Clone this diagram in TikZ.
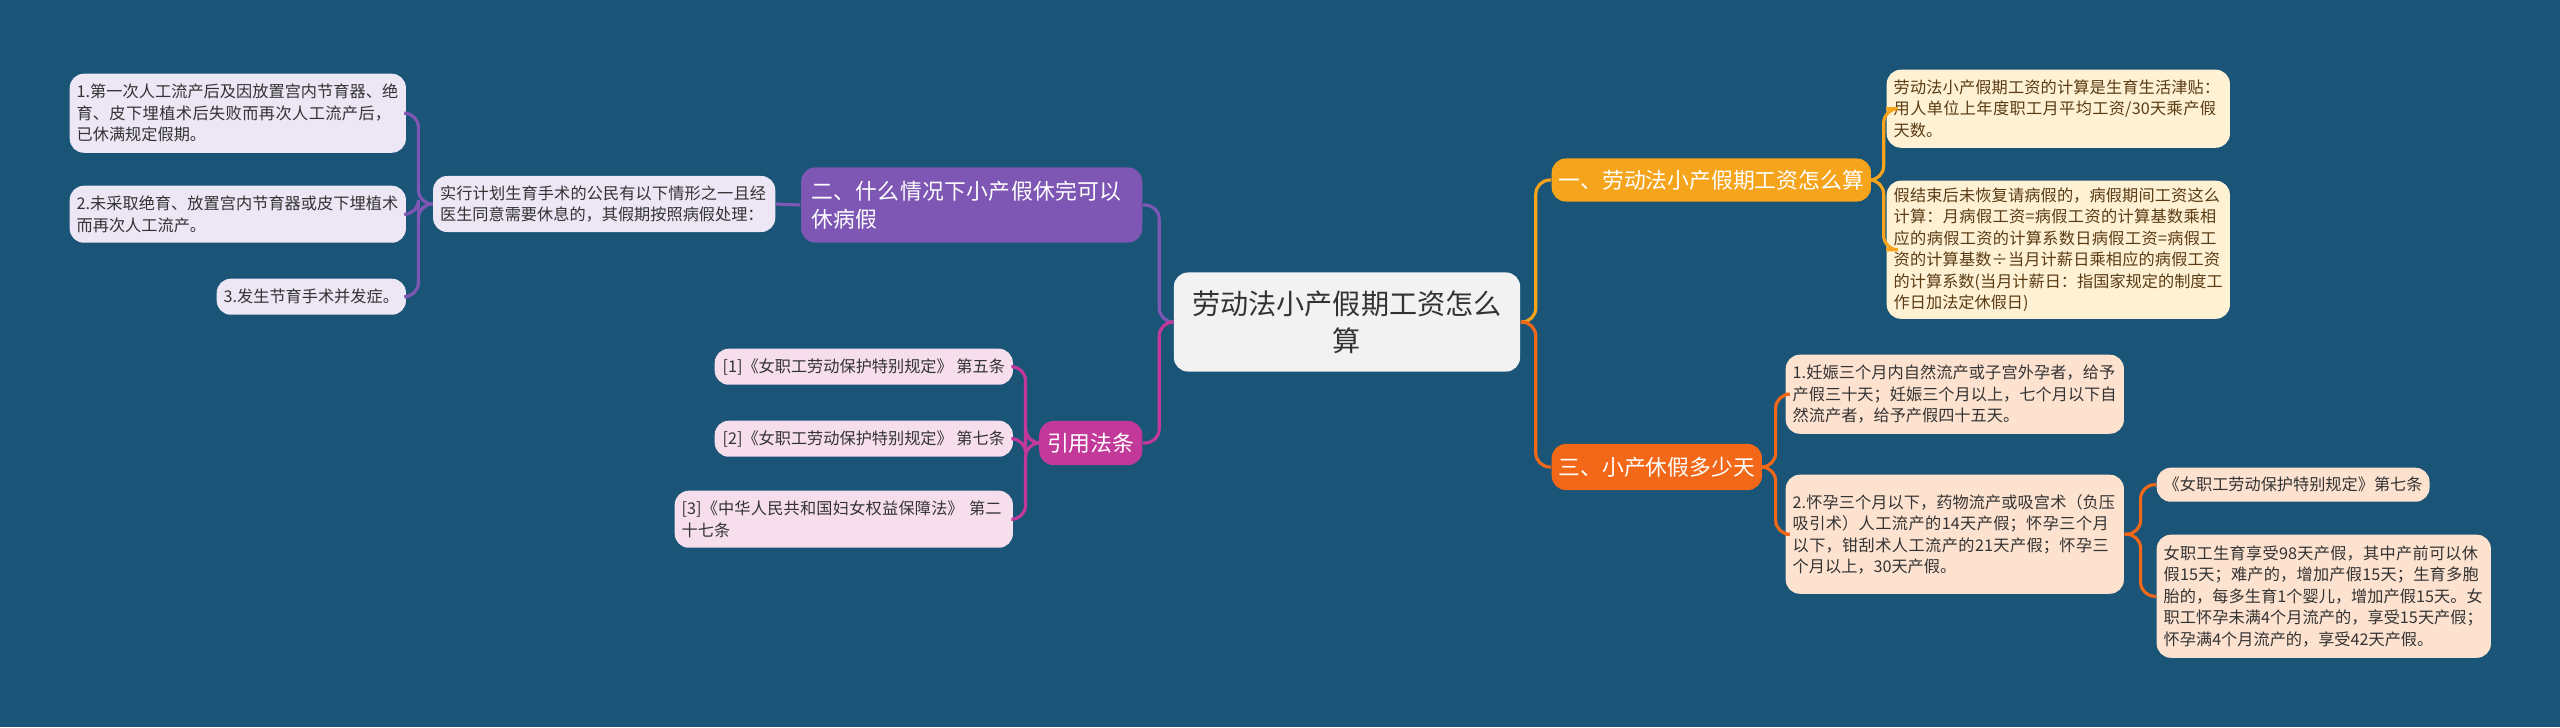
\documentclass[tikz,border=0pt]{standalone}
\usepackage{fontspec}
\setmainfont{Noto Sans CJK SC}
\XeTeXlinebreaklocale "zh"
\XeTeXlinebreakskip=0pt plus 0.5pt
\usetikzlibrary{positioning}
\definecolor{bgblue}{RGB}{26,84,119}
\definecolor{oneorange}{RGB}{245,164,28}
\definecolor{oneleaf}{RGB}{255,241,212}
\definecolor{onetext}{RGB}{90,60,20}
\definecolor{threeorange}{RGB}{242,104,24}
\definecolor{threeleaf}{RGB}{253,226,208}
\definecolor{twopurple}{RGB}{126,87,180}
\definecolor{twoleaf}{RGB}{236,230,245}
\definecolor{fourpink}{RGB}{194,57,154}
\definecolor{fourleaf}{RGB}{247,222,236}
\tikzset{
  box/.style={rounded corners=4pt, inner xsep=0.07cm, inner ysep=0.04cm,
    align=left, anchor=north west},
  leaf/.style={box, font=\fontsize{4.6}{6.1}\selectfont, text=#1},
  topic/.style={box, font=\fontsize{6.2}{8}\selectfont, text=white},
  link/.style={line width=0.9pt, rounded corners=4pt},
}
\begin{document}
\begin{tikzpicture}[x=0.01cm,y=-0.01cm]
  \fill[bgblue] (0,0) rectangle (2560,727);

  %% centre
  \node[box, fill=white!95!black, minimum width=3.46cm, minimum height=0.99cm,
        align=center, font=\fontsize{8}{10.5}\selectfont, text=black!80,
        anchor=center] (root) at (1347,322) {劳动法小产假期工资怎么\\算};

  %% right side
  \node[topic, fill=oneorange, minimum width=3.11cm, minimum height=0.43cm, anchor=west]
        (one) at (1551,180) {一、劳动法小产假期工资怎么算};
  \node[leaf=onetext, fill=oneleaf, minimum width=3.43cm, text width=3.29cm, minimum height=0.78cm]
        (oneA) at (1886,69) {劳动法小产假期工资的计算是生育生活津贴：用人单位上年度职工月平均工资/30天乘产假天数。};
  \node[leaf=onetext, fill=oneleaf, minimum width=3.43cm, text width=3.29cm, minimum height=1.38cm]
        (oneB) at (1886,180) {假结束后未恢复请病假的，病假期间工资这么计算：月病假工资=病假工资的计算基数乘相应的病假工资的计算系数日病假工资=病假工资的计算基数÷当月计薪日乘相应的病假工资的计算系数(当月计薪日：指国家规定的制度工作日加法定休假日)};

  \node[topic, fill=threeorange, minimum width=2.08cm, minimum height=0.46cm, anchor=west]
        (three) at (1551,467) {三、小产休假多少天};
  \node[leaf=black!80, fill=threeleaf, minimum width=3.38cm, text width=3.24cm, minimum height=0.79cm]
        (threeA) at (1785,354) {1.妊娠三个月内自然流产或子宫外孕者，给予产假三十天；妊娠三个月以上，七个月以下自然流产者，给予产假四十五天。};
  \node[leaf=black!80, fill=threeleaf, minimum width=3.38cm, text width=3.24cm, minimum height=1.19cm]
        (threeB) at (1785,474) {2.怀孕三个月以下，药物流产或吸宫术（负压吸引术）人工流产的14天产假；怀孕三个月以下，钳刮术人工流产的21天产假；怀孕三个月以上，30天产假。};
  \node[leaf=black!80, fill=threeleaf, minimum width=2.71cm, minimum height=0.34cm]
        (lawA) at (2156,467) {《女职工劳动保护特别规定》第七条};
  \node[leaf=black!80, fill=threeleaf, minimum width=3.34cm, text width=3.2cm, minimum height=1.23cm]
        (lawB) at (2156,534) {女职工生育享受98天产假，其中产前可以休假15天；难产的，增加产假15天；生育多胞胎的，每多生育1个婴儿，增加产假15天。女职工怀孕未满4个月流产的，享受15天产假；怀孕满4个月流产的，享受42天产假。};

  %% left side
  \node[topic, fill=twopurple, minimum width=3.41cm, text width=3.2cm, minimum height=0.75cm, anchor=east]
        (two) at (1143,205) {二、什么情况下小产假休完可以休病假};
  \node[leaf=black!80, fill=twoleaf, minimum width=3.42cm, text width=3.28cm, minimum height=0.56cm, anchor=east]
        (twoA) at (776,204) {实行计划生育手术的公民有以下情形之一且经医生同意需要休息的，其假期按照病假处理：};
  \node[leaf=black!80, fill=twoleaf, minimum width=3.36cm, text width=3.22cm, minimum height=0.79cm]
        (twoB) at (69,73) {1.第一次人工流产后及因放置宫内节育器、绝育、皮下埋植术后失败而再次人工流产后，已休满规定假期。};
  \node[leaf=black!80, fill=twoleaf, minimum width=3.36cm, text width=3.22cm, minimum height=0.57cm]
        (twoC) at (69,185) {2.未采取绝育、放置宫内节育器或皮下埋植术而再次人工流产。};
  \node[leaf=black!80, fill=twoleaf, minimum width=1.89cm, minimum height=0.36cm]
        (twoD) at (216,278) {3.发生节育手术并发症。};

  \node[topic, fill=fourpink, minimum width=1.03cm, minimum height=0.44cm, anchor=east]
        (four) at (1143,443) {引用法条};
  \node[leaf=black!80, fill=fourleaf, minimum width=2.98cm, minimum height=0.36cm]
        (fourA) at (714,348) {[1]《女职工劳动保护特别规定》 第五条};
  \node[leaf=black!80, fill=fourleaf, minimum width=2.98cm, minimum height=0.36cm]
        (fourB) at (714,420) {[2]《女职工劳动保护特别规定》 第七条};
  \node[leaf=black!80, fill=fourleaf, minimum width=3.38cm, text width=3.24cm, minimum height=0.57cm]
        (fourC) at (674,490) {[3]《中华人民共和国妇女权益保障法》 第二十七条};

  %% connectors
  \draw[link, oneorange] (root.east) -- ++(15,0) |- (one.west);
  \draw[link, threeorange] (root.east) -- ++(15,0) |- (three.west);
  \draw[link, oneorange] (one.east) -- ++(12,0) |- (oneA.west);
  \draw[link, oneorange] (one.east) -- ++(12,0) |- (oneB.west);
  \draw[link, threeorange] (three.east) -- ++(13,0) |- (threeA.west);
  \draw[link, threeorange] (three.east) -- ++(13,0) |- (threeB.west);
  \draw[link, threeorange] (threeB.east) -- ++(16,0) |- (lawA.west);
  \draw[link, threeorange] (threeB.east) -- ++(16,0) |- (lawB.west);

  \draw[link, twopurple] (root.west) -- ++(-14,0) |- (two.east);
  \draw[link, fourpink] (root.west) -- ++(-14,0) |- (four.east);
  \draw[link, twopurple] (two.west) -- (twoA.east);
  \draw[link, twopurple] (twoA.west) -- ++(-14,0) |- (twoB.east);
  \draw[link, twopurple] (twoA.west) -- ++(-14,0) |- (twoC.east);
  \draw[link, twopurple] (twoA.west) -- ++(-14,0) |- (twoD.east);
  \draw[link, fourpink] (four.west) -- ++(-13,0) |- (fourA.east);
  \draw[link, fourpink] (four.west) -- ++(-13,0) |- (fourB.east);
  \draw[link, fourpink] (four.west) -- ++(-13,0) |- (fourC.east);
\end{tikzpicture}
\end{document}
